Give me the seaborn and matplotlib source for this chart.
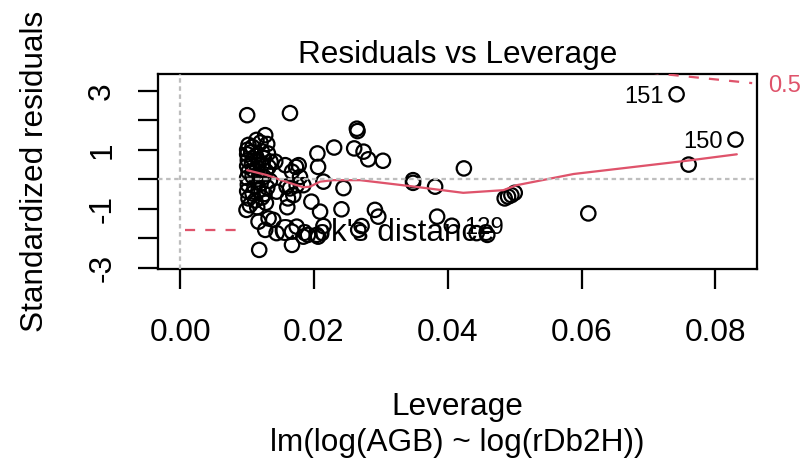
import numpy as np
import pandas as pd
import matplotlib
matplotlib.use("Agg")
import matplotlib.pyplot as plt
from matplotlib.lines import Line2D
import seaborn as sns

# ---------------------------------------------------------
# data (leverage, standardized residual)
# ---------------------------------------------------------
lev_cluster = [0.0114, 0.0102, 0.0100, 0.0108, 0.0120, 0.0130,
               0.0100, 0.0106, 0.0113, 0.0122, 0.0131,
               0.0101, 0.0109, 0.0117, 0.0125, 0.0135,
               0.0100, 0.0107, 0.0115, 0.0123, 0.0132,
               0.0102, 0.0110, 0.0119, 0.0128,
               0.0100, 0.0108, 0.0116, 0.0125, 0.0134,
               0.0101, 0.0111, 0.0120, 0.0130,
               0.0100, 0.0108, 0.0117, 0.0126,
               0.0102, 0.0112, 0.0122,
               0.0104, 0.0115, 0.0128]
res_cluster = [1.34, 1.17, 1.00, 1.10, 1.25, 1.20,
               0.85, 0.92, 0.80, 0.95, 0.88,
               0.65, 0.70, 0.62, 0.72, 0.60,
               0.45, 0.50, 0.40, 0.52, 0.42,
               0.25, 0.30, 0.18, 0.28,
               0.05, 0.10, 0.00, 0.08, -0.05,
               -0.18, -0.25, -0.15, -0.28,
               -0.40, -0.48, -0.38, -0.50,
               -0.65, -0.72, -0.62,
               -0.88, -0.95, -0.80]

lev_other = [0.0100, 0.0164, 0.0264, 0.0265, 0.0230, 0.0260, 0.0274, 0.0281,
             0.0303, 0.0205, 0.0206, 0.0214, 0.0244, 0.0127, 0.0142, 0.0157,
             0.0173, 0.0177, 0.0167, 0.0179, 0.0159, 0.0169, 0.0161, 0.0196,
             0.0209, 0.0160, 0.0241, 0.0291, 0.0296, 0.0132, 0.0139, 0.0174,
             0.0214, 0.0127, 0.0144, 0.0167, 0.0191, 0.0167, 0.0271, 0.0266,
             0.0206, 0.0348, 0.0348, 0.0381, 0.0424, 0.0485, 0.0490, 0.0495,
             0.0500, 0.0384, 0.0406, 0.0443, 0.0459, 0.0610, 0.0742, 0.0830,
             0.0760, 0.0118, 0.0117, 0.0099, 0.0184, 0.0174, 0.0164, 0.0144,
             0.0184, 0.0204]
res_other = [2.18, 2.25, 1.72, 1.64, 1.08, 1.05, 0.94, 0.68,
             0.63, 0.88, 0.42, -0.08, -0.30, 1.50, 0.60, 0.48,
             0.42, 0.48, 0.26, 0.08, -0.25, -0.54, -0.65, -0.76,
             -1.10, -0.95, -1.02, -1.04, -1.27, -1.33, -1.38, -1.61,
             -1.59, -1.72, -1.83, -1.78, -1.89, -2.23, -1.59, -1.72,
             -1.95, -0.03, -0.12, -0.25, 0.37, -0.65, -0.59, -0.54,
             -0.46, -1.27, -1.58, -1.83, -1.89, -1.16, 2.89, 1.35,
             0.50, -2.40, -1.44, -1.04, -0.20, -0.20, -0.31, -0.42,
             -1.95, -1.89]

# labelled observations
id_labels = ["151", "150", "129"]
id_lev = [0.0742, 0.0830, 0.0406]
id_res = [2.89, 1.35, -1.58]

# smoother (red line)
smooth_lev = [0.0100, 0.0130, 0.0160, 0.0184, 0.0194, 0.0209, 0.0228, 0.0269,
              0.0343, 0.0423, 0.0483, 0.0503, 0.0588, 0.0757, 0.0832]
smooth_res = [0.31, 0.14, -0.10, -0.27, -0.25, -0.08, -0.03, -0.03,
              -0.23, -0.46, -0.37, -0.20, 0.18, 0.63, 0.85]

# Cook's distance 0.5 contour (top right)
cook_lev = [0.0700, 0.0730, 0.0760, 0.0790, 0.0820, 0.0855]
cook_res = [3.64, 3.56, 3.49, 3.42, 3.35, 3.27]

x_ticks = [0.00, 0.02, 0.04, 0.06, 0.08]
x_ticklabels = ["0.00", "0.02", "0.04", "0.06", "0.08"]
y_ticks = [-3, -2, -1, 0, 1, 2, 3]
y_ticklabels = ["-3", "", "-1", "", "1", "", "3"]

df = pd.DataFrame({"lev": lev_cluster + lev_other,
                   "res": res_cluster + res_other})

# ---------------------------------------------------------
# style
# ---------------------------------------------------------
sns.set_theme(style="ticks")
plt.rcParams["font.family"] = ["Liberation Sans", "DejaVu Sans"]
plt.rcParams["font.size"] = 12.6
plt.rcParams["text.color"] = "black"
plt.rcParams["axes.labelcolor"] = "black"
plt.rcParams["xtick.color"] = "black"
plt.rcParams["ytick.color"] = "black"

fs = 12.6
fs_id = 9.5
red = "#DF536B"
grey = "#BEBEBE"
lw = 0.9

fig = plt.figure(figsize=(804 / 180, 468 / 180), dpi=180)
ax = fig.add_axes([158 / 804, 1 - 269 / 468, 599 / 804, 195 / 468])

sns.scatterplot(data=df, x="lev", y="res", ax=ax, marker="o", s=33,
                facecolor="none", edgecolor="black", linewidth=lw, zorder=3)
sns.lineplot(x=smooth_lev, y=smooth_res, ax=ax, color=red, lw=lw,
             sort=False, estimator=None, zorder=4)

ax.axhline(0, color=grey, lw=lw, ls=(0, (2, 1.6)), zorder=5)
ax.axvline(0, color=grey, lw=lw, ls=(0, (2, 1.6)), zorder=5)

ax.plot(cook_lev, cook_res, color=red, lw=lw, ls=(0, (4.5, 4.5)), zorder=4)
ax.text(0.0879, cook_res[-1], "0.5", color=red, fontsize=fs_id,
        ha="left", va="center_baseline", clip_on=False)

for lab, lx, ly in zip(id_labels, id_lev, id_res):
    if lx > 0.0415:
        ax.annotate(lab, (lx, ly), xytext=(-5, 0), textcoords="offset points",
                    ha="right", va="center_baseline", fontsize=fs_id)
    else:
        ax.annotate(lab, (lx, ly), xytext=(5, 0), textcoords="offset points",
                    ha="left", va="center_baseline", fontsize=fs_id)

handle = Line2D([], [], color=red, lw=lw, ls=(0, (4.5, 4.5)))
ax.legend([handle], ["Cook's distance"], loc="center left",
          bbox_to_anchor=(0.045, 0.185), frameon=False, fontsize=fs,
          handlelength=1.9, handletextpad=0.9, borderpad=0, borderaxespad=0,
          labelcolor="black")

ax.set_xlim(-0.00333, 0.08622)
ax.set_ylim(-3.05, 3.58)
ax.set_xticks(x_ticks)
ax.set_xticklabels(x_ticklabels)
ax.set_yticks(y_ticks)
ax.set_yticklabels(y_ticklabels, rotation=90, va="center")

for sp in ax.spines.values():
    sp.set_color("black")
    sp.set_linewidth(lw)
ax.tick_params(axis="both", colors="black", labelsize=fs, length=8, width=lw)
ax.tick_params(axis="x", pad=11.5)
ax.tick_params(axis="y", pad=8.3)

ax.set_title("Residuals vs Leverage", fontsize=fs, pad=4.4, color="black")
ax.set_xlabel("Leverage", fontsize=fs, va="baseline")
ax.xaxis.set_label_coords(0.5, (269 - 415) / 195)
ax.set_ylabel("Standardized residuals", fontsize=fs, va="baseline")
ax.yaxis.set_label_coords((43 - 158) / 599, 0.5)
ax.text(0.5, (269 - 451) / 195, "lm(log(AGB) ~ log(rDb2H))", fontsize=fs,
        ha="center", va="baseline", transform=ax.transAxes)

fig.savefig("out.png", dpi=180)
